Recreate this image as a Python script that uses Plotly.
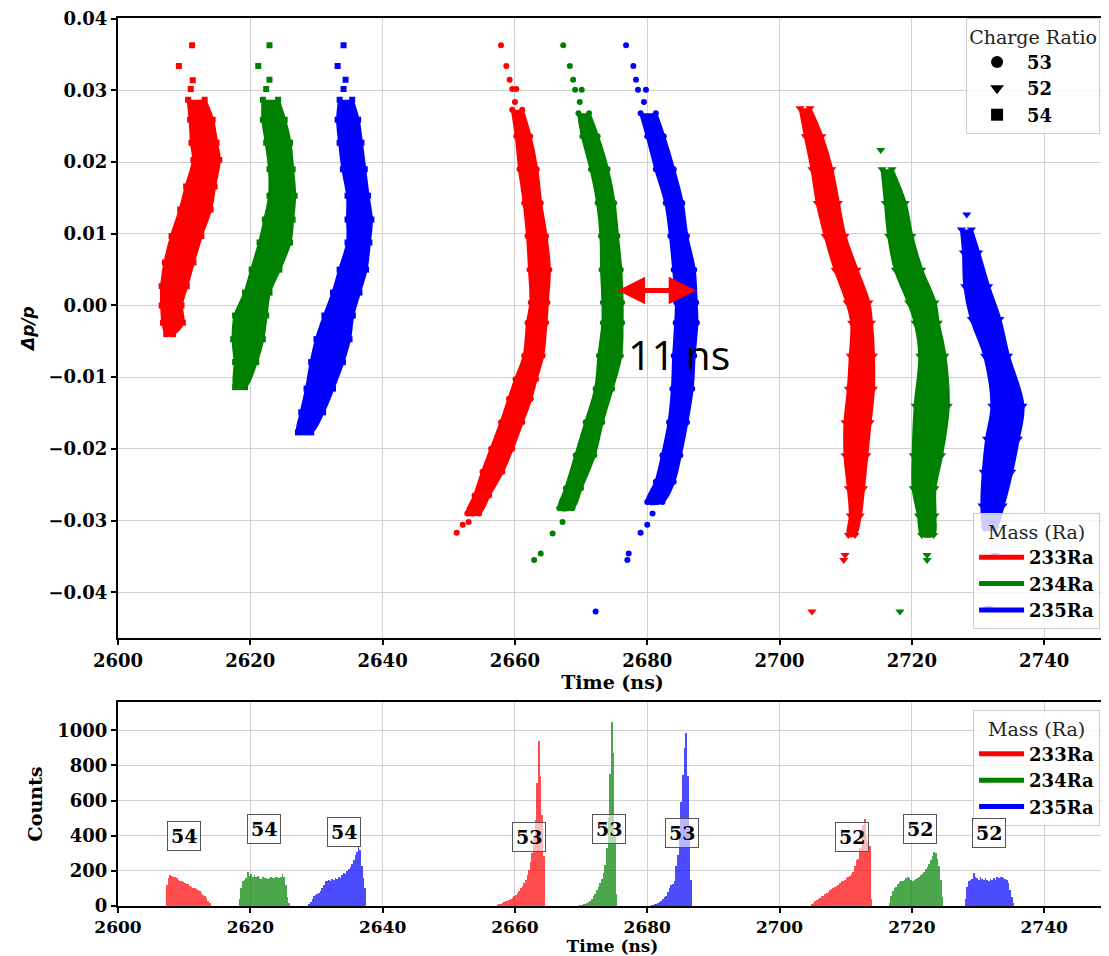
import plotly.graph_objects as go

RED = "#ff0000"
GREEN = "#008000"
BLUE = "#0000ff"
RED_A = "rgba(255,0,0,0.7)"
GREEN_A = "rgba(0,128,0,0.7)"
BLUE_A = "rgba(0,0,255,0.7)"

# ---------------- top panel: band outlines (dp level, left time, right time) ----------------
r54_dp = [0.0287, 0.0259, 0.0227, 0.0203, 0.0166, 0.0134, 0.0097, 0.0060, 0.0027, 0.0000, -0.0024, -0.0040]
r54_lo = [2610.6, 2610.9, 2611.1, 2611.4, 2610.3, 2609.4, 2608.1, 2607.1, 2606.6, 2606.6, 2606.8, 2607.3]
r54_hi = [2613.1, 2614.3, 2614.9, 2615.3, 2614.6, 2614.0, 2612.6, 2611.4, 2610.4, 2609.6, 2609.8, 2608.3]
r54_out_t = [2611.2, 2609.2, 2611.3, 2611.0]
r54_out_dp = [0.0363, 0.0334, 0.0314, 0.0302]

g54_dp = [0.0287, 0.0259, 0.0227, 0.0190, 0.0153, 0.0120, 0.0088, 0.0050, 0.0018, -0.0014, -0.0047, -0.0079, -0.0114]
g54_lo = [2621.9, 2621.9, 2622.4, 2622.9, 2622.9, 2622.2, 2621.4, 2620.2, 2619.2, 2617.7, 2617.4, 2617.7, 2617.7]
g54_hi = [2624.2, 2625.2, 2626.0, 2626.4, 2626.7, 2626.4, 2626.0, 2624.4, 2622.9, 2622.4, 2621.9, 2620.9, 2619.2]
g54_out_t = [2622.9, 2621.2, 2622.9, 2622.4]
g54_out_dp = [0.0363, 0.0334, 0.0315, 0.0302]

b54_dp = [0.0287, 0.0259, 0.0227, 0.0190, 0.0153, 0.0120, 0.0088, 0.0050, 0.0018, -0.0014, -0.0047, -0.0079, -0.0116, -0.0149, -0.0177]
b54_lo = [2633.5, 2633.2, 2633.5, 2634.0, 2634.7, 2634.7, 2634.7, 2633.5, 2632.5, 2631.2, 2630.0, 2629.2, 2628.5, 2627.7, 2627.2]
b54_hi = [2635.4, 2636.3, 2636.8, 2637.3, 2637.8, 2638.3, 2638.0, 2637.5, 2636.5, 2635.5, 2635.0, 2634.0, 2632.5, 2631.0, 2629.2]
b54_out_t = [2634.1, 2633.2, 2634.4, 2634.1]
b54_out_dp = [0.0363, 0.0334, 0.0315, 0.0302]

r53_dp = [0.0273, 0.0236, 0.0190, 0.0143, 0.0097, 0.0050, 0.0004, -0.0024, -0.0070, -0.0103, -0.0130, -0.0163, -0.0200, -0.0232, -0.0265, -0.0290]
r53_lo = [2659.6, 2660.2, 2660.7, 2661.4, 2661.9, 2662.2, 2662.4, 2661.9, 2661.4, 2660.1, 2659.1, 2657.9, 2656.4, 2655.1, 2653.9, 2652.8]
r53_hi = [2661.1, 2662.3, 2663.3, 2663.9, 2664.7, 2665.2, 2664.9, 2664.7, 2664.2, 2663.2, 2662.4, 2661.1, 2659.6, 2658.1, 2656.1, 2654.6]
r53_out_t = [2657.9, 2658.7, 2659.2, 2659.6, 2660.2, 2660.0, 2653.0, 2652.1, 2651.2]
r53_out_dp = [0.0363, 0.0334, 0.0315, 0.0302, 0.0302, 0.0284, -0.0302, -0.0306, -0.0317]

g53_dp = [0.0268, 0.0236, 0.0190, 0.0143, 0.0097, 0.0050, 0.0004, -0.0024, -0.0070, -0.0116, -0.0163, -0.0209, -0.0255, -0.0283]
g53_lo = [2669.6, 2670.2, 2671.5, 2672.5, 2673.0, 2673.1, 2673.3, 2673.3, 2672.7, 2672.2, 2670.7, 2669.2, 2667.7, 2666.7]
g53_hi = [2671.2, 2672.5, 2674.0, 2675.0, 2675.5, 2676.0, 2676.2, 2676.2, 2676.0, 2674.7, 2673.2, 2672.0, 2670.0, 2668.7]
g53_out_t = [2667.3, 2668.3, 2668.8, 2669.1, 2670.1, 2669.8, 2667.2, 2665.7, 2663.9, 2662.9]
g53_out_dp = [0.0363, 0.0334, 0.0315, 0.0301, 0.0301, 0.0284, -0.0302, -0.0318, -0.0346, -0.0355]

b53_dp = [0.0268, 0.0236, 0.0190, 0.0143, 0.0097, 0.0050, 0.0004, -0.0024, -0.0070, -0.0116, -0.0163, -0.0209, -0.0246, -0.0274]
b53_lo = [2679.0, 2680.0, 2681.3, 2682.8, 2683.5, 2684.0, 2684.4, 2684.3, 2684.0, 2683.8, 2683.3, 2682.3, 2681.3, 2680.0]
b53_hi = [2681.3, 2682.5, 2684.0, 2685.3, 2686.0, 2687.1, 2687.4, 2687.5, 2687.1, 2686.8, 2686.0, 2685.0, 2684.0, 2682.3]
b53_out_t = [2676.8, 2677.9, 2678.3, 2678.6, 2679.8, 2679.5, 2680.8, 2680.0, 2679.0, 2677.2, 2677.0, 2672.2]
b53_out_dp = [0.0363, 0.0334, 0.0315, 0.0301, 0.0301, 0.0284, -0.0290, -0.0306, -0.0317, -0.0346, -0.0355, -0.0427]

r52_dp = [0.0275, 0.0236, 0.0190, 0.0143, 0.0097, 0.0050, 0.0004, -0.0024, -0.0070, -0.0116, -0.0163, -0.0209, -0.0255, -0.0293, -0.0320]
r52_lo = [2703.1, 2703.9, 2704.9, 2705.7, 2706.9, 2708.4, 2710.2, 2710.9, 2710.7, 2710.4, 2709.9, 2709.9, 2710.4, 2710.7, 2710.4]
r52_hi = [2704.6, 2706.4, 2707.9, 2708.9, 2709.9, 2711.7, 2713.5, 2713.9, 2714.2, 2714.2, 2713.7, 2713.2, 2712.7, 2712.2, 2711.4]
r52_out_t = [2709.9, 2709.7, 2704.9]
r52_out_dp = [-0.0348, -0.0355, -0.0427]

g52_dp = [0.0190, 0.0143, 0.0097, 0.0050, 0.0004, -0.0024, -0.0070, -0.0140, -0.0209, -0.0255, -0.0293, -0.0320]
g52_lo = [2715.5, 2716.0, 2716.5, 2717.5, 2719.5, 2720.5, 2721.2, 2720.5, 2720.2, 2720.2, 2721.0, 2721.5]
g52_hi = [2717.0, 2719.0, 2720.0, 2721.5, 2723.5, 2724.0, 2725.0, 2725.5, 2724.5, 2723.5, 2723.5, 2723.3]
g52_out_t = [2715.3, 2722.3, 2722.3, 2718.2]
g52_out_dp = [0.0217, -0.0348, -0.0355, -0.0427]

b52_dp = [0.0106, 0.0074, 0.0027, -0.0019, -0.0070, -0.0140, -0.0186, -0.0232, -0.0279, -0.0311]
b52_lo = [2727.5, 2727.8, 2728.0, 2729.0, 2731.0, 2732.1, 2731.3, 2730.8, 2730.6, 2731.0]
b52_hi = [2729.0, 2730.1, 2731.6, 2733.3, 2734.6, 2736.8, 2736.1, 2735.1, 2733.8, 2732.6]
b52_out_t = [2728.3, 2732.6, 2731.6]
b52_out_dp = [0.0127, -0.0348, -0.0422]

# ---------------- bottom panel: histogram counts (0.25 ns bins) ----------------
BIN = 0.25
r54_start, r54_counts = 2607.25, [120, 160, 178, 172, 165, 168, 158, 150, 145, 140, 136, 132, 125, 128, 115, 110, 105, 100, 98, 90, 85, 75, 65, 55, 45, 30, 15]
g54_start, g54_counts = 2618.25, [40, 100, 140, 150, 160, 195, 170, 180, 168, 175, 165, 170, 160, 155, 165, 158, 162, 155, 160, 165, 158, 162, 165, 168, 160, 165, 180, 165, 120, 50, 15]
b54_start, b54_counts = 2628.75, [10, 25, 40, 55, 65, 70, 75, 85, 100, 120, 145, 140, 150, 145, 155, 150, 160, 155, 165, 160, 175, 190, 185, 200, 210, 225, 240, 260, 290, 310, 340, 320, 230, 160, 100]
r53_start, r53_counts = 2657.25, [8, 10, 14, 18, 22, 28, 30, 35, 40, 45, 55, 62, 75, 88, 100, 115, 130, 150, 175, 205, 250, 300, 400, 490, 700, 940, 740, 520, 285]
g53_start, g53_counts = 2669.75, [5, 8, 10, 12, 15, 22, 30, 40, 55, 70, 90, 110, 130, 155, 190, 235, 330, 500, 750, 1050, 870, 400, 70]
b53_start, b53_counts = 2680.5, [5, 8, 10, 14, 18, 22, 30, 40, 50, 60, 80, 100, 117, 125, 145, 230, 292, 404, 590, 749, 898, 985, 740, 400, 150]
r52_start, r52_counts = 2704.75, [10, 20, 30, 35, 42, 48, 55, 60, 70, 75, 80, 90, 97, 105, 110, 115, 121, 130, 140, 145, 150, 158, 165, 172, 180, 195, 230, 265, 270, 330, 335, 460, 493, 400, 367, 340, 40]
g52_start, g52_counts = 2716.5, [20, 60, 85, 100, 110, 125, 135, 140, 145, 150, 160, 165, 160, 150, 145, 150, 155, 160, 165, 175, 185, 195, 210, 225, 240, 260, 285, 305, 300, 270, 230, 150, 50]
b52_start, b52_counts = 2728.0, [40, 110, 140, 150, 155, 190, 165, 160, 150, 165, 155, 150, 160, 150, 145, 155, 150, 160, 150, 165, 160, 165, 165, 160, 155, 150, 130, 90, 50, 20]

# charge-state labels on histogram: (time, counts, text)
lab_t = [2610.0, 2622.0, 2634.2, 2662.2, 2674.2, 2685.2, 2710.9, 2721.2, 2731.7]
lab_c = [397, 441, 419, 391, 436, 413, 391, 441, 413]
lab_txt = ["54", "54", "54", "53", "53", "53", "52", "52", "52"]

x_ticks = [2600, 2620, 2640, 2660, 2680, 2700, 2720, 2740]
y_ticks_top = [-0.04, -0.03, -0.02, -0.01, 0.0, 0.01, 0.02, 0.03, 0.04]
y_ticks_bot = [0, 200, 400, 600, 800, 1000]

SERIF = "DejaVu Serif"
fig = go.Figure()

bands = [
    (r54_dp, r54_lo, r54_hi, r54_out_t, r54_out_dp, RED, "square", 6),
    (g54_dp, g54_lo, g54_hi, g54_out_t, g54_out_dp, GREEN, "square", 6),
    (b54_dp, b54_lo, b54_hi, b54_out_t, b54_out_dp, BLUE, "square", 6),
    (r53_dp, r53_lo, r53_hi, r53_out_t, r53_out_dp, RED, "circle", 6),
    (g53_dp, g53_lo, g53_hi, g53_out_t, g53_out_dp, GREEN, "circle", 6),
    (b53_dp, b53_lo, b53_hi, b53_out_t, b53_out_dp, BLUE, "circle", 6),
    (r52_dp, r52_lo, r52_hi, r52_out_t, r52_out_dp, RED, "triangle-down", 8),
    (g52_dp, g52_lo, g52_hi, g52_out_t, g52_out_dp, GREEN, "triangle-down", 8),
    (b52_dp, b52_lo, b52_hi, b52_out_t, b52_out_dp, BLUE, "triangle-down", 8),
]
for dp, lo, hi, ot, od, col, sym, sz in bands:
    fig.add_trace(go.Scatter(x=lo + hi[::-1], y=dp + dp[::-1], mode="lines", fill="toself",
                             fillcolor=col, line=dict(color=col, width=3, shape="spline"),
                             showlegend=False, hoverinfo="skip", xaxis="x", yaxis="y"))
    fig.add_trace(go.Scatter(x=lo + hi + ot, y=dp + dp + od, mode="markers",
                             marker=dict(symbol=sym, color=col, size=sz, line=dict(width=0)),
                             showlegend=False, xaxis="x", yaxis="y"))

hists = [
    (r54_start, r54_counts, RED_A), (g54_start, g54_counts, GREEN_A), (b54_start, b54_counts, BLUE_A),
    (r53_start, r53_counts, RED_A), (g53_start, g53_counts, GREEN_A), (b53_start, b53_counts, BLUE_A),
    (r52_start, r52_counts, RED_A), (g52_start, g52_counts, GREEN_A), (b52_start, b52_counts, BLUE_A),
]
for start, counts, col in hists:
    fig.add_trace(go.Bar(x0=start + BIN / 2, dx=BIN, y=counts, width=BIN,
                         marker=dict(color=col, line=dict(width=0)),
                         showlegend=False, xaxis="x2", yaxis="y2"))

# legends
for name, sym in [("53", "circle"), ("52", "triangle-down"), ("54", "square")]:
    fig.add_trace(go.Scatter(x=[None], y=[None], mode="markers", name=name,
                             marker=dict(symbol=sym, color="black", size=7),
                             legend="legend", xaxis="x", yaxis="y"))
for name, col in [("233Ra", RED), ("234Ra", GREEN), ("235Ra", BLUE)]:
    fig.add_trace(go.Scatter(x=[None], y=[None], mode="lines", name=name,
                             line=dict(color=col, width=4), legend="legend2", xaxis="x", yaxis="y"))
for name, col in [("233Ra", RED), ("234Ra", GREEN), ("235Ra", BLUE)]:
    fig.add_trace(go.Scatter(x=[None], y=[None], mode="lines", name=name,
                             line=dict(color=col, width=4), legend="legend3", xaxis="x2", yaxis="y2"))

tickfont = dict(family=SERIF, size=18, color="black", weight="bold")
tickfont_bot = dict(family=SERIF, size=17, color="black", weight="bold")
titlefont = dict(family=SERIF, size=19, color="black", weight="bold")
titlefont_bot = dict(family=SERIF, size=17, color="black", weight="bold")
axis_base = dict(showgrid=True, gridcolor="#d0d0d0", gridwidth=1, showline=True, linecolor="black",
                 linewidth=2, mirror=True, ticks="outside", ticklen=5, tickwidth=1.5, tickcolor="black",
                 zeroline=False, ticklabeloverflow="allow")

leg_common = dict(bgcolor="rgba(255,255,255,0.8)", bordercolor="#cccccc", borderwidth=1,
                  font=dict(family=SERIF, size=18, color="black", weight="bold"),
                  xanchor="right", x=0.993, tracegroupgap=0, itemsizing="constant")
leg_title_font = dict(family=SERIF, size=19, color="#222222", weight="normal")

annotations = [
    dict(x=2687.4, y=0.0021, ax=2675.3, ay=0.0021, xref="x", yref="y", axref="x", ayref="y",
         text="", showarrow=True, arrowhead=2, arrowside="end+start", arrowsize=1.1,
         arrowwidth=5, arrowcolor=RED),
    dict(x=2684.8, y=-0.0068, xref="x", yref="y", text="11 ns", showarrow=False,
         font=dict(family="Open Sans", size=41, color="black")),
]
for t, c, s in zip(lab_t, lab_c, lab_txt):
    annotations.append(dict(x=t, y=c, xref="x2", yref="y2", text=s, showarrow=False,
                            font=dict(family=SERIF, size=19, color="black", weight="bold"),
                            bgcolor="rgba(255,255,255,0.6)", bordercolor="#555555",
                            borderwidth=1, borderpad=3))

# page body has an 8px margin: the figure is sized and offset to compensate
fig.update_layout(
    width=1101, height=948,
    margin=dict(l=110, r=0, t=6, b=47),
    paper_bgcolor="white", plot_bgcolor="white",
    bargap=0, barmode="overlay",
    xaxis=dict(domain=[0, 1], anchor="y", range=[2600, 2749.5], tickvals=x_ticks, tickfont=tickfont,
               title=dict(text="Time (ns)", font=titlefont, standoff=2), **axis_base),
    yaxis=dict(domain=[0.304, 1], anchor="x", range=[-0.0464, 0.0401], tickvals=y_ticks_top,
               tickformat=".2f", tickfont=tickfont,
               title=dict(text="<b><i>Δp/p</i></b>", font=dict(family="DejaVu Sans", size=17, color="black"),
                          standoff=10), **axis_base),
    xaxis2=dict(domain=[0, 1], anchor="y2", range=[2600, 2749.5], tickvals=x_ticks, tickfont=tickfont_bot,
                title=dict(text="Time (ns)", font=titlefont_bot, standoff=5), **axis_base),
    yaxis2=dict(domain=[0.0034, 0.2324], anchor="x2", range=[0, 1162], tickvals=y_ticks_bot,
                tickfont=tickfont,
                title=dict(text="Counts", font=titlefont, standoff=10), **axis_base),
    legend=dict(title=dict(text="Charge Ratio", side="top center", font=leg_title_font),
                y=1.0, yanchor="top", itemwidth=50, **leg_common),
    legend2=dict(title=dict(text="Mass (Ra)", side="top center", font=leg_title_font),
                 y=0.314, yanchor="bottom", itemwidth=45, **leg_common),
    legend3=dict(title=dict(text="Mass (Ra)", side="top center", font=leg_title_font),
                 y=0.2235, yanchor="top", itemwidth=45, **leg_common),
    annotations=annotations,
)

fig.write_html("out.html")
